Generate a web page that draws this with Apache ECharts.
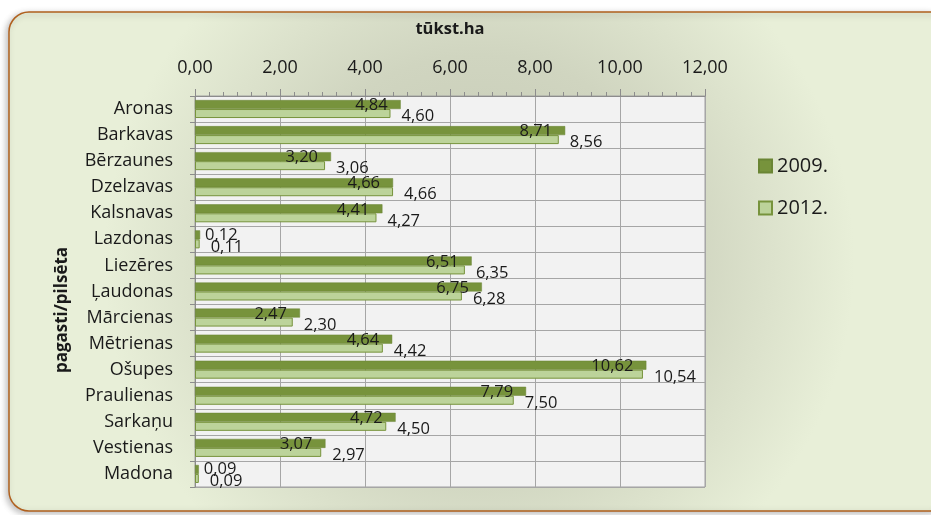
<!DOCTYPE html>
<html>
<head>
<meta charset="utf-8">
<script src="https://cdn.jsdelivr.net/npm/echarts@6/dist/echarts.min.js"></script>
<style>html,body{margin:0;padding:0;background:#fff;}#c{width:931px;height:515px;}</style>
</head>
<body>
<div id="c"></div>
<script>
const categories = ['Aronas','Barkavas','Bērzaunes','Dzelzavas','Kalsnavas','Lazdonas','Liezēres','Ļaudonas','Mārcienas','Mētrienas','Ošupes','Praulienas','Sarkaņu','Vestienas','Madona'];
const v2009 = [4.84,8.71,3.20,4.66,4.41,0.12,6.51,6.75,2.47,4.64,10.62,7.79,4.72,3.07,0.09];
const v2012 = [4.60,8.56,3.06,4.66,4.27,0.11,6.35,6.28,2.30,4.42,10.54,7.50,4.50,2.97,0.09];
const seriesNames = ['2009.','2012.'];
const xTitle = 'tūkst.ha';
const yTitle = 'pagasti/pilsēta';

const FONT = '"Open Sans"';
const fmt = v => Number(v).toFixed(2).replace('.', ',');
const TXT = '#1a1a1a';

const chart = echarts.init(document.getElementById('c'), null, {renderer:'canvas'});

function dark(v){
  const small = v < 1;
  return {value:v, label:{position: small ? 'right' : 'insideRight', distance: small ? 5 : 13, offset:[0, small ? 0 : 1]}};
}
function light(v){
  return {value:v, label:{position:'right', distance: 11, offset:[0, 3]}};
}

chart.setOption({
  backgroundColor:'#ffffff',
  animation:false,
  graphic:[{
    type:'rect', z:-10, silent:true,
    shape:{x:9, y:12, width:940, height:499, r:20},
    style:{
      fill:{type:'radial', x:0.5, y:0.5, r:0.75, colorStops:[
        {offset:0, color:'#c2c6b2'},{offset:0.55, color:'#d0d5c0'},{offset:1, color:'#e8efd8'}]},
      stroke:'#b0601e', lineWidth:1.5,
      shadowBlur:6, shadowColor:'rgba(0,0,0,0.25)', shadowOffsetX:-2, shadowOffsetY:2
    }
  },{
    type:'text', silent:true, x:62, y:310, rotation:Math.PI/2,
    style:{text:yTitle, align:'center', verticalAlign:'middle', fill:TXT,
      font:'bold 17px "Open Sans"'}
  }],
  grid:{left:195, right:226, top:96, bottom:28, show:true, backgroundColor:'#f2f2f2', borderColor:'#a0a0a0', borderWidth:1},
  legend:{
    orient:'vertical', left:758, top:156, padding:0, itemWidth:13, itemHeight:13, itemGap:22,
    icon:'rect',
    data:seriesNames,
    textStyle:{fontFamily:FONT, fontSize:20, color:TXT, padding:[0,0,0,0]}
  },
  xAxis:{
    type:'value', position:'top', min:0, max:12, interval:2,
    name:xTitle, nameLocation:'middle', nameGap:58,
    nameTextStyle:{fontFamily:FONT, fontSize:16.5, fontWeight:'bold', color:TXT},
    axisLine:{show:true, lineStyle:{color:'#8c8c8c'}},
    axisTick:{show:true, length:7, lineStyle:{color:'#8c8c8c'}},
    minorTick:{show:true, splitNumber:6, length:4, lineStyle:{color:'#8c8c8c'}},
    axisLabel:{fontFamily:FONT, fontSize:18, color:TXT, margin:19, formatter:fmt},
    splitLine:{show:true, lineStyle:{color:'#a6a6a6', width:1}}
  },
  yAxis:[{
    type:'category', data:categories, inverse:true,
    axisLine:{show:true, lineStyle:{color:'#8c8c8c'}},
    axisTick:{show:false},
    axisLabel:{fontFamily:FONT, fontSize:18, color:TXT, margin:22},
    splitLine:{show:true, lineStyle:{color:'#a6a6a6', width:1}}
  },{
    type:'category', data:categories.flatMap(c => [c + '_a', c + '_b']), inverse:true, position:'left',
    axisLine:{show:false}, axisLabel:{show:false}, splitLine:{show:false},
    axisTick:{show:true, length:5, lineStyle:{color:'#8c8c8c'}}
  }],
  series:[{
    name:seriesNames[0], type:'bar', yAxisIndex:0, barWidth:9, barGap:'0%',
    data:v2009.map(dark),
    itemStyle:{color:'#77933c', borderColor:'#6a8534', borderWidth:0.5},
    label:{show:true, fontFamily:FONT, fontSize:16.5, color:TXT, formatter:p => fmt(p.value)}
  },{
    name:seriesNames[1], type:'bar', yAxisIndex:0, barWidth:9, barGap:'0%',
    data:v2012.map(light),
    itemStyle:{color:'#bcd39a', borderColor:'#77933c', borderWidth:1},
    label:{show:true, fontFamily:FONT, fontSize:16.5, color:TXT, formatter:p => fmt(p.value)}
  }]
});
</script>
</body>
</html>
